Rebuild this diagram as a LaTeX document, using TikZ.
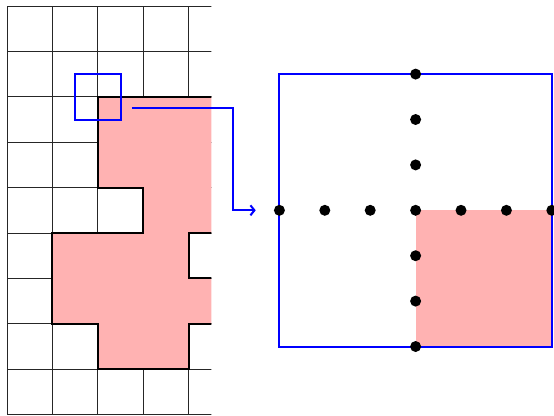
\documentclass[tikz,border=0pt]{standalone}
\usetikzlibrary{arrows.meta}
\begin{document}
\begin{tikzpicture}[x=45.4pt,y=-45.4pt,
  gridline/.style={black!85,line width=0.8pt},
  region/.style={fill=red!30},
  outline/.style={black,line width=2pt,line join=miter},
  zoombox/.style={draw=blue,line width=2pt,inner sep=0pt,fill=none},
  link/.style={blue,line width=2pt,-{Straight Barb[length=4pt,width=10pt]}},
  dot/.style={circle,fill=black,inner sep=0pt,minimum size=11pt},
]
\useasboundingbox (-0.1542,-0.1322) rectangle (12.048,9.009);

% lattice with the shaded region, cut off halfway through the fifth column
\begin{scope}
  \clip (-1,-1) rectangle (4.5,10);
  \draw[gridline,xstep=45.4pt,ystep=45.4pt] (0,0) grid (5,9);
  \fill[region] (2,2) -- (5,2) -- (5,5) -- (4,5) -- (4,6) -- (5,6) -- (5,7)
    -- (4,7) -- (4,8) -- (2,8) -- (2,7) -- (1,7) -- (1,5) -- (3,5) -- (3,4)
    -- (2,4) -- cycle;
  \draw[outline] (5,2) -- (2,2) -- (2,4) -- (3,4) -- (3,5) -- (1,5) -- (1,7)
    -- (2,7) -- (2,8) -- (4,8) -- (4,7) -- (5,7);
  \draw[outline] (5,5) -- (4,5) -- (4,6) -- (5,6);
\end{scope}

% window around one lattice corner
\node[zoombox,minimum size=45.4pt] (small) at (2,2) {};

% enlarged view of that corner
\node[zoombox,minimum size=272.4pt] (big) at (9,4.5) {};
\fill[region] (big.center) rectangle (big.south east);
\node[zoombox,minimum size=272.4pt] at (big.center) {};

\foreach \k in {0,...,6}
  \node[dot] (h\k) at (6+\k,4.5) {};
\foreach \k in {0,1,2,4,5,6}
  \node[dot] (v\k) at (9,1.5+\k) {};

% connector from the window to the enlarged view
\coordinate (tap) at (2.75,2.25);
\coordinate (land) at ([xshift=-0.5*45.4pt]big.west);
\draw[link] (tap) -| ([xshift=-1*45.4pt]big.west) -- (land);
\end{tikzpicture}
\end{document}
